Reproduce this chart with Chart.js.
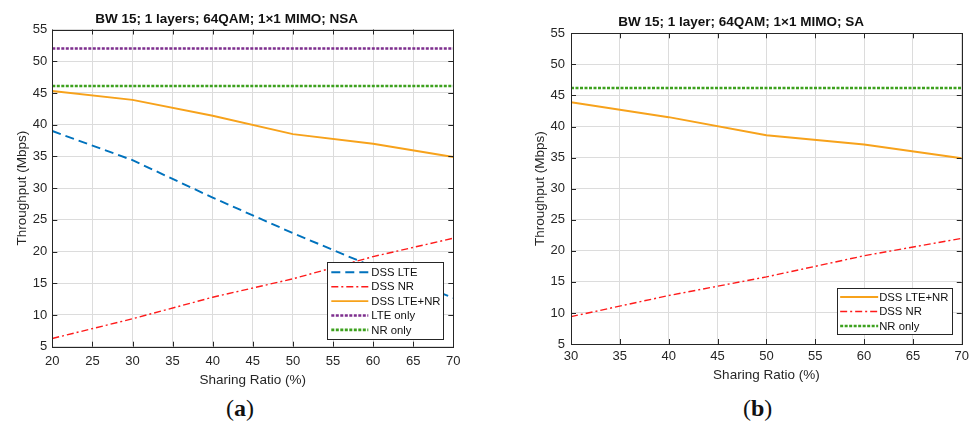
<!DOCTYPE html>
<html>
<head>
<meta charset="utf-8">
<script src="https://cdn.jsdelivr.net/npm/chart.js@4"></script>
<style>
  body { margin: 0; background: #fff; width: 974px; height: 423px; overflow: hidden; position: relative; }
  .panel { position: absolute; top: 0; height: 395px; }
  .tag { position: absolute; top: 395px; font: 24px "Liberation Serif", serif; color: #111; }
  .tag b { font-weight: bold; }
</style>
</head>
<body>
<div class="panel" style="left:0;width:490px"><canvas id="chartA"></canvas></div>
<div class="panel" style="left:490px;width:484px"><canvas id="chartB"></canvas></div>
<div class="tag" style="left:226px">(<b>a</b>)</div>
<div class="tag" style="left:743px">(<b>b</b>)</div>
<script>
// (a) NSA
const sharingA = [20, 30, 40, 50, 60, 70];
const dssLteA = [39.0, 34.4, 28.5, 22.9, 17.6, 12.7];
const dssNrA = [6.3, 9.4, 12.8, 15.7, 19.2, 22.1];
const dssSumA = [45.3, 43.9, 41.4, 38.5, 37.0, 34.9];
const lteOnlyA = [52.0, 52.0, 52.0, 52.0, 52.0, 52.0];
const nrOnlyA = [46.1, 46.1, 46.1, 46.1, 46.1, 46.1];

// (b) SA
const sharingB = [30, 40, 50, 60, 70];
const dssSumB = [43.9, 41.5, 38.6, 37.1, 34.9];
const dssNrB = [9.4, 12.8, 15.8, 19.2, 22.0];
const nrOnlyB = [46.2, 46.2, 46.2, 46.2, 46.2];

const yTicks = [5, 10, 15, 20, 25, 30, 35, 40, 45, 50, 55];

const FONT = "'Liberation Sans', Arial, sans-serif";
const AXIS_COLOR = "#262626";
const GRID_COLOR = "#dcdcdc";

function toXY(xs, ys) {
    return xs.map((x, i) => ({ x: x, y: ys[i] }));
}

const STYLES = {
    "DSS LTE": { borderColor: "#0072bd", borderWidth: 1.9, borderDash: [9, 5] },
    "DSS NR": { borderColor: "#ff1a1a", borderWidth: 1.4, borderDash: [7, 3, 2, 3] },
    "DSS LTE+NR": { borderColor: "#f7a21b", borderWidth: 1.9, borderDash: [] },
    "LTE only": { borderColor: "#7e2f8e", borderWidth: 2.6, borderDash: [3, 1.5] },
    "NR only": { borderColor: "#3da11e", borderWidth: 2.6, borderDash: [3, 1.5] }
};

function makeDataset(label, xs, ys) {
    return Object.assign({
        label: label,
        data: toXY(xs, ys),
        pointRadius: 0,
        fill: false,
        tension: 0
    }, STYLES[label]);
}

// box round the axes, with inward ticks on all four sides
const framePlugin = {
    id: "frame",
    afterDatasetsDraw(chart) {
        const { ctx, chartArea: a, scales } = chart;
        ctx.save();
        ctx.strokeStyle = AXIS_COLOR;
        ctx.lineWidth = 1;
        ctx.strokeRect(Math.round(a.left) + 0.5, Math.round(a.top) + 0.5,
            Math.round(a.right - a.left), Math.round(a.bottom - a.top));
        ctx.beginPath();
        scales.x.ticks.forEach(t => {
            const px = Math.round(scales.x.getPixelForValue(t.value)) + 0.5;
            ctx.moveTo(px, a.bottom); ctx.lineTo(px, a.bottom - 5);
            ctx.moveTo(px, a.top); ctx.lineTo(px, a.top + 5);
        });
        scales.y.ticks.forEach(t => {
            const py = Math.round(scales.y.getPixelForValue(t.value)) + 0.5;
            ctx.moveTo(a.left, py); ctx.lineTo(a.left + 5, py);
            ctx.moveTo(a.right, py); ctx.lineTo(a.right - 5, py);
        });
        ctx.stroke();
        ctx.restore();
    }
};

// legend box inside the axes, lower right
const boxLegendPlugin = {
    id: "boxLegend",
    afterDraw(chart, args, opts) {
        const { ctx, chartArea: a } = chart;
        const sets = opts.order.map(name => chart.data.datasets.find(d => d.label === name));
        const right = a.right - opts.right;
        const bottom = a.bottom - opts.bottom;
        const left = right - opts.width;
        const top = bottom - opts.height;
        ctx.save();
        ctx.fillStyle = "#fff";
        ctx.fillRect(left, top, opts.width, opts.height);
        ctx.strokeStyle = AXIS_COLOR;
        ctx.lineWidth = 1;
        ctx.strokeRect(Math.round(left) + 0.5, Math.round(top) + 0.5, Math.round(opts.width), Math.round(opts.height));
        ctx.font = opts.fontSize + "px " + FONT;
        ctx.textBaseline = "middle";
        sets.forEach((ds, i) => {
            const y = top + opts.firstRow + i * opts.rowGap;
            ctx.strokeStyle = ds.borderColor;
            ctx.lineWidth = ds.borderWidth;
            ctx.setLineDash(ds.borderDash);
            ctx.beginPath();
            ctx.moveTo(left + opts.lineStart, y);
            ctx.lineTo(left + opts.lineEnd, y);
            ctx.stroke();
            ctx.setLineDash([]);
            ctx.fillStyle = "#111";
            ctx.fillText(ds.label, left + opts.textStart, y + 0.5);
        });
        ctx.restore();
    }
};

function makeOptions(cfg) {
    return {
        responsive: true,
        maintainAspectRatio: false,
        animation: false,
        layout: { padding: { left: cfg.padLeft, right: cfg.padRight, top: 0, bottom: 0 } },
        plugins: {
            legend: { display: false },
            tooltip: { enabled: false },
            title: {
                display: true,
                text: cfg.title,
                color: "#111",
                font: { family: FONT, size: 13.5, weight: "bold", lineHeight: 1.2 },
                padding: { top: cfg.titleTop, bottom: cfg.titleBottom }
            },
            boxLegend: cfg.legend
        },
        scales: {
            x: {
                type: "linear",
                min: cfg.xMin,
                max: 70,
                afterFit: s => { s.height = cfg.xHeight; },
                ticks: { stepSize: 5, padding: cfg.xTickPad, maxRotation: 0, color: AXIS_COLOR, font: { family: FONT, size: 13 } },
                grid: { color: GRID_COLOR, drawTicks: false },
                border: { display: false },
                title: {
                    display: true,
                    text: "Sharing Ratio (%)",
                    color: AXIS_COLOR,
                    font: { family: FONT, size: 13.5, lineHeight: 1.2 },
                    padding: { top: 0, bottom: cfg.xTitlePad }
                }
            },
            y: {
                min: 5,
                max: 55,
                afterFit: s => { s.width = cfg.yWidth; },
                afterBuildTicks: s => { s.ticks = yTicks.map(v => ({ value: v })); },
                ticks: { padding: cfg.yTickPad, color: AXIS_COLOR, font: { family: FONT, size: 13 } },
                grid: { color: GRID_COLOR, drawTicks: false },
                border: { display: false },
                title: {
                    display: true,
                    text: "Throughput (Mbps)",
                    color: AXIS_COLOR,
                    font: { family: FONT, size: 13.5, lineHeight: 1.2 },
                    padding: { top: cfg.yTitlePad, bottom: 0 }
                }
            }
        }
    };
}

new Chart(document.getElementById("chartA"), {
    type: "line",
    data: {
        datasets: [
            makeDataset("DSS LTE", sharingA, dssLteA),
            makeDataset("DSS NR", sharingA, dssNrA),
            makeDataset("DSS LTE+NR", sharingA, dssSumA),
            makeDataset("LTE only", sharingA, lteOnlyA),
            makeDataset("NR only", sharingA, nrOnlyA)
        ]
    },
    options: makeOptions({
        title: "BW 15; 1 layers; 64QAM; 1×1 MIMO; NSA",
        xMin: 20,
        padLeft: 0, padRight: 36.7,
        titleTop: 10.9, titleBottom: 2.4,
        yWidth: 52.3, yTickPad: 5, yTitlePad: 13.9,
        xHeight: 48.3, xTickPad: 7, xTitlePad: 6.9,
        legend: {
            order: ["DSS LTE", "DSS NR", "DSS LTE+NR", "LTE only", "NR only"],
            right: 10, bottom: 7.7, width: 116, height: 77,
            firstRow: 10.3, rowGap: 14.4, lineStart: 4, lineEnd: 41, textStart: 44, fontSize: 11.3
        }
    }),
    plugins: [framePlugin, boxLegendPlugin]
});

new Chart(document.getElementById("chartB"), {
    type: "line",
    data: {
        datasets: [
            makeDataset("DSS LTE+NR", sharingB, dssSumB),
            makeDataset("DSS NR", sharingB, dssNrB),
            makeDataset("NR only", sharingB, nrOnlyB)
        ]
    },
    options: makeOptions({
        title: "BW 15; 1 layer; 64QAM; 1×1 MIMO; SA",
        xMin: 30,
        padLeft: 29, padRight: 10.7,
        titleTop: 14.6, titleBottom: 2.5,
        yWidth: 52, yTickPad: 6, yTitlePad: 12.9,
        xHeight: 51, xTickPad: 5, xTitlePad: 11.9,
        legend: {
            order: ["DSS LTE+NR", "DSS NR", "NR only"],
            right: 9.3, bottom: 10, width: 115, height: 46,
            firstRow: 9, rowGap: 14.5, lineStart: 2.7, lineEnd: 40.7, textStart: 41.7, fontSize: 11.3
        }
    }),
    plugins: [framePlugin, boxLegendPlugin]
});
</script>
</body>
</html>
